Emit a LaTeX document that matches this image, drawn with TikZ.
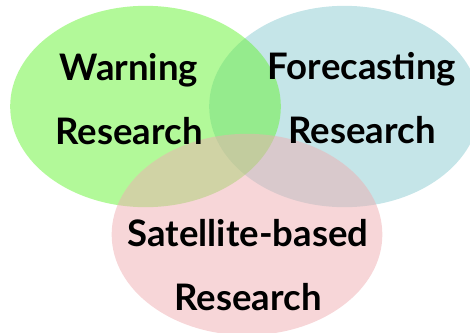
\documentclass[tikz,border=0pt]{standalone}
\usepackage{fontspec}
\setmainfont{Lato}
\usetikzlibrary{shapes.geometric}

\definecolor{warnfill}{RGB}{102,243,52}
\definecolor{forefill}{RGB}{139,203,209}
\definecolor{satfill}{RGB}{239,173,177}

\begin{document}
\begin{tikzpicture}[
        x=0.75pt, y=-0.75pt,
        area/.style={ellipse, minimum width=203pt, minimum height=151pt, inner sep=0pt, fill opacity=0.5},
        label/.style={align=center, anchor=base, inner sep=0pt, font=\fontsize{27.4}{48}\selectfont\bfseries},
    ]
    \clip (0,0) rectangle (470,332);

    % Circles of the diagram
    \node[area, fill=forefill] (fore) at (344.5,106.5) {};
    \node[area, fill=warnfill] (warn) at (145.5,106.5) {};
    \node[area, fill=satfill] (sat) at (247,234.5) {};

    % Labels
    \node[label] (warntext) at (129,144) {Warning\\Research};
    \node[label] (foretext) at (362,143) {Forecasting\\Research};
    \node[label] (sattext) at (248,310) {Satellite-based\\Research};
\end{tikzpicture}
\end{document}
